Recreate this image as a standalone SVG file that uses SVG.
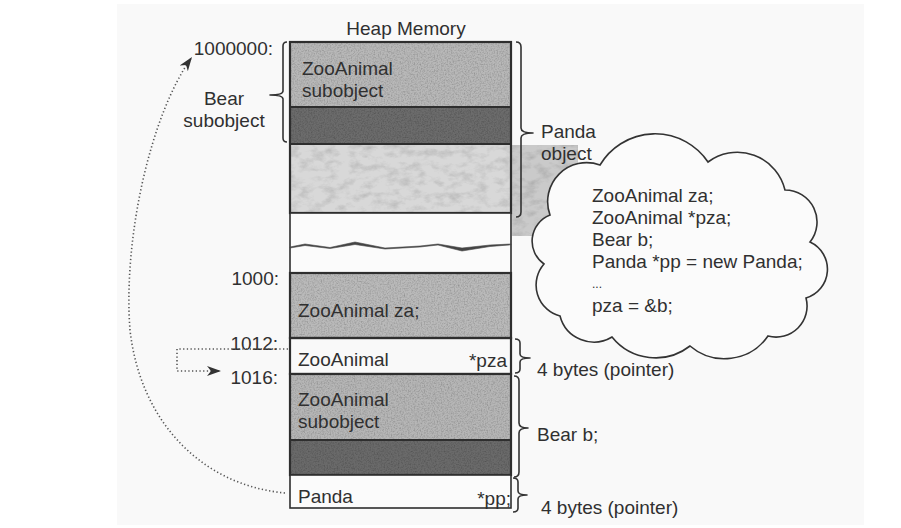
<svg xmlns="http://www.w3.org/2000/svg" width="901" height="528" viewBox="0 0 901 528">
<style>
text { font-family: "Liberation Sans", Arial, sans-serif; font-size: 19px; fill: #303030; }
.end { text-anchor: end; }
.mid { text-anchor: middle; }
.cell { stroke: none; }
.border { fill: none; stroke: #2e2e2e; stroke-width: 2.2; }
.brace { fill: none; stroke: #333; stroke-width: 1.6; stroke-linejoin: round; }
.dot { fill: none; stroke: #555; stroke-width: 1.6; stroke-dasharray: 1.3 2.4; }
</style>
<defs>
<filter id="grain" x="0" y="0" width="100%" height="100%">
<feTurbulence type="fractalNoise" baseFrequency="0.7" numOctaves="2" seed="4" result="n"/>
<feColorMatrix in="n" type="matrix" values="0 0 0 0 0  0 0 0 0 0  0 0 0 0 0  0.8 0 0 0 -0.32" result="na"/>
<feComposite in="na" in2="SourceGraphic" operator="in" result="nc"/>
<feMerge><feMergeNode in="SourceGraphic"/><feMergeNode in="nc"/></feMerge>
</filter>
<filter id="mottle" x="0" y="0" width="100%" height="100%">
<feTurbulence type="fractalNoise" baseFrequency="0.08 0.14" numOctaves="4" seed="9" result="n"/>
<feColorMatrix in="n" type="matrix" values="0 0 0 0 0  0 0 0 0 0  0 0 0 0 0  0.6 0 0 0 -0.26" result="na"/>
<feComposite in="na" in2="SourceGraphic" operator="in" result="nc"/>
<feMerge><feMergeNode in="SourceGraphic"/><feMergeNode in="nc"/></feMerge>
</filter>
<marker id="dart" markerWidth="16" markerHeight="12" refX="14" refY="5" orient="auto" markerUnits="userSpaceOnUse">
<path d="M0,0 L14,5 L0,10 L4,5 z" fill="#333"/>
</marker>
</defs>

<rect x="117" y="4" width="747" height="521" fill="#f9f9f9"/>

<!-- shadow area behind cloud -->
<rect x="512" y="145" width="66" height="91" fill="#cacaca" filter="url(#mottle)"/>

<g id="heap-memory">
<text class="mid" x="406" y="35">Heap Memory</text>
<g id="panda-object">
<rect class="cell" x="290" y="42" width="221" height="65" fill="#b8b8b8" filter="url(#grain)"/>
<rect class="cell" x="290" y="107" width="221" height="37" fill="#6c6c6c" filter="url(#grain)"/>
<rect class="cell" x="290" y="144" width="221" height="69" fill="#d8d8d8" filter="url(#mottle)"/>
<rect class="border" x="290" y="42" width="221" height="171"/>
<line class="border" x1="290" y1="107" x2="511" y2="107"/>
<line class="border" x1="290" y1="144" x2="511" y2="144"/>
<text x="302" y="75">ZooAnimal</text>
<text x="302" y="97">subobject</text>
</g>
<g id="gap">
<rect x="290" y="213" width="221" height="60" fill="#fbfbfb" stroke="#2e2e2e" stroke-width="1.6"/>
<polygon points="290,247 305,244 330,247.5 355,242 385,248 420,246 438,244 462,248 490,245 511,244 511,244.8 490,246.5 462,251 438,245 420,247 385,249 355,244.5 330,248.5 305,245.5 290,248" fill="#444" stroke="#444" stroke-width="0.6"/>
</g>
<g id="za">
<rect class="cell" x="290" y="273" width="221" height="65" fill="#bababa" filter="url(#grain)"/>
<rect class="border" x="290" y="273" width="221" height="65"/>
<text x="298" y="317">ZooAnimal za;</text>
</g>
<g id="pza">
<rect x="290" y="338" width="221" height="36" fill="#fbfbfb" class="border"/>
<text x="298" y="366">ZooAnimal</text>
<text class="end" x="507" y="367">*pza</text>
</g>
<g id="bear-b">
<rect class="cell" x="290" y="374" width="221" height="66" fill="#b6b6b6" filter="url(#grain)"/>
<rect class="cell" x="290" y="440" width="221" height="35" fill="#6a6a6a" filter="url(#grain)"/>
<rect class="border" x="290" y="374" width="221" height="101"/>
<line class="border" x1="290" y1="440" x2="511" y2="440"/>
<text x="298" y="406">ZooAnimal</text>
<text x="298" y="428">subobject</text>
</g>
<g id="pp">
<rect x="290" y="475" width="221" height="33" fill="#fbfbfb" stroke="#2e2e2e" stroke-width="1.6"/>
<text x="298" y="503">Panda</text>
<text class="end" x="511" y="505">*pp;</text>
</g>
</g>

<g id="address-labels">
<text class="end" x="273" y="55">1000000:</text>
<text class="end" x="279" y="285">1000:</text>
<text class="end" x="278" y="350">1012:</text>
<text class="end" x="278" y="384">1016:</text>
</g>

<g id="braces">
<path class="brace" d="M287,42 Q283,42 283,46 L283,91 Q283,95 270,95 Q283,95 283,99 L283,138 Q283,142 287,142"/>
<path class="brace" d="M516,42 Q521,42 521,47 L521,128 Q521,133 533,133 Q521,133 521,138 L521,212 Q521,217 516,217"/>
<path class="brace" d="M515,339 Q520,339 520,343 L520,354 Q520,358 530,358 Q520,358 520,362 L520,369 Q520,373 515,373"/>
<path class="brace" d="M514,376 Q519,376 519,381 L519,423 Q519,428 528,428 Q519,428 519,433 L519,472 Q519,477 514,477"/>
<path class="brace" d="M513,478 Q518,478 518,482 L518,491 Q518,495 527,495 Q518,495 518,499 L518,508 Q518,512 513,512"/>
</g>

<g id="brace-labels">
<text class="mid" x="224" y="105">Bear</text>
<text class="mid" x="224" y="127">subobject</text>
<text x="541" y="138">Panda</text>
<text x="541" y="160">object</text>
<text x="537" y="376">4 bytes (pointer)</text>
<text x="537" y="441">Bear b;</text>
<text x="541" y="514">4 bytes (pointer)</text>
</g>

<g id="code-cloud">
<path d="M550,215 A39,39 0 0 1 600,165 A64,64 0 0 1 708,162 A49,49 0 0 1 785,190 A32,32 0 0 1 810,242 A30,30 0 0 1 806,298 A31,31 0 0 1 768,336 A53,53 0 0 1 690,346 A56,56 0 0 1 612,337 A35,35 0 0 1 560,316 A32,32 0 0 1 544,264 A28,28 0 0 1 550,215 Z" fill="#fbfbfb" stroke="#333" stroke-width="1.6"/>
<text x="592" y="202">ZooAnimal za;</text>
<text x="592" y="224">ZooAnimal *pza;</text>
<text x="592" y="246">Bear b;</text>
<text x="592" y="268">Panda *pp = new Panda;</text>
<text x="592" y="288" style="font-size:12px">...</text>
<text x="592" y="312">pza = &amp;b;</text>
</g>

<g id="connectors">
<path class="dot" d="M285,493 C200,485 140,420 130,330 C123,240 150,115 192,57" marker-end="url(#dart)"/>
<path class="dot" d="M288,349 L177,349 L177,371 L221,371" marker-end="url(#dart)"/>
</g>
</svg>
